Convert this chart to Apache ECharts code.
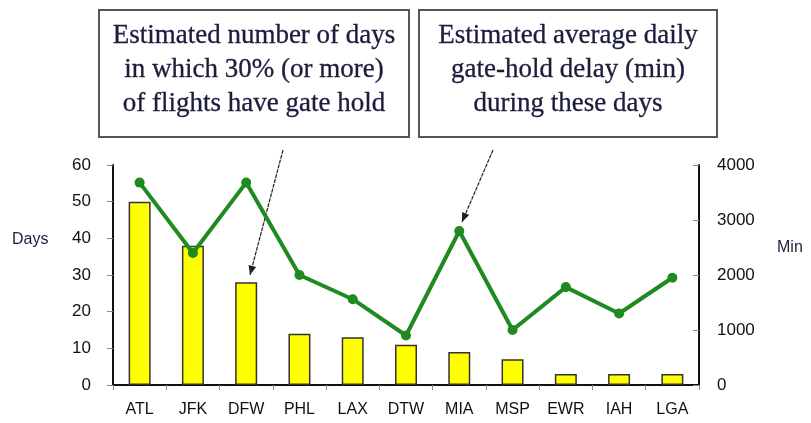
<!DOCTYPE html>
<html>
<head>
<meta charset="utf-8">
<script src="https://cdn.jsdelivr.net/npm/echarts@6/dist/echarts.min.js"></script>
<style>
  html, body { margin: 0; padding: 0; background: #fff; }
  #chart { width: 811px; height: 423px; }
</style>
</head>
<body>
<div id="chart"></div>
<script>
const airports = ['ATL', 'JFK', 'DFW', 'PHL', 'LAX', 'DTW', 'MIA', 'MSP', 'EWR', 'IAH', 'LGA'];
const gateHoldDays = [50, 38, 28, 14, 13, 11, 9, 7, 3, 3, 3];
const dailyDelayMin = [3680, 2400, 3680, 2000, 1560, 900, 2800, 1000, 1780, 1300, 1950];
const daysTicks = [0, 60, 10];
const minTicks = [0, 4000, 1000];

const boxText1 = 'Estimated number of days\nin which 30% (or more)\nof flights have gate hold';
const boxText2 = 'Estimated average daily\ngate-hold delay (min)\nduring these days';

const chart = echarts.init(document.getElementById('chart'));

const sans = '"Liberation Sans", Arial, sans-serif';
const serif = '"Liberation Serif", "Times New Roman", serif';
const txt = '#1c1c3c';

// annotation box + arrow helper
function box(x, w, text) {
  return [
    {
      type: 'rect',
      shape: { x: x, y: 10, width: w, height: 127 },
      style: { fill: '#fff', stroke: '#555', lineWidth: 2 },
    },
    {
      type: 'text',
      x: x + w / 2,
      y: 70,
      style: {
        text: text, font: '27px ' + serif, fill: txt,
        align: 'center', verticalAlign: 'middle', lineHeight: 34,
        stroke: txt, lineWidth: 0.3,
      },
    },
  ];
}
function arrow(x1, y1, x2, y2) {
  const a = Math.atan2(y2 - y1, x2 - x1);
  const L = 10, s = 0.4;
  return [
    {
      type: 'line',
      shape: { x1: x1, y1: y1, x2: x2, y2: y2 },
      style: { stroke: '#222', lineWidth: 1.2, lineDash: [4, 1] },
    },
    {
      type: 'polygon',
      shape: {
        points: [
          [x2, y2],
          [x2 - L * Math.cos(a - s), y2 - L * Math.sin(a - s)],
          [x2 - L * Math.cos(a + s), y2 - L * Math.sin(a + s)],
        ],
      },
      style: { fill: '#222' },
    },
  ];
}

const option = {
  backgroundColor: '#fff',
  animation: false,
  grid: { left: 113, right: 112, top: 165, bottom: 38 },
  xAxis: {
    type: 'category',
    data: airports,
    axisLine: { lineStyle: { color: '#111', width: 2 } },
    axisTick: { show: true, length: 5, lineStyle: { color: '#888' } },
    axisLabel: { color: '#111', fontFamily: sans, fontSize: 16, margin: 17 },
  },
  yAxis: [
    {
      type: 'value',
      min: daysTicks[0], max: daysTicks[1], interval: daysTicks[2],
      axisLine: { show: true, lineStyle: { color: '#111', width: 2 } },
      axisTick: { show: true, length: 6, lineStyle: { color: '#888' } },
      splitLine: { show: false },
      axisLabel: { color: '#111', fontFamily: sans, fontSize: 17, margin: 22 },
    },
    {
      type: 'value',
      min: minTicks[0], max: minTicks[1], interval: minTicks[2],
      axisLine: { show: true, lineStyle: { color: '#111', width: 2 } },
      axisTick: { show: true, inside: true, length: 6, lineStyle: { color: '#888' } },
      splitLine: { show: false },
      axisLabel: {
        color: '#111', fontFamily: sans, fontSize: 17, margin: 18,
        formatter: (v) => String(v),
      },
    },
  ],
  series: [
    {
      name: 'Days',
      type: 'bar',
      data: gateHoldDays,
      yAxisIndex: 0,
      barWidth: 22,
      itemStyle: { color: '#ffff00', borderColor: '#333', borderWidth: 1.5 },
    },
    {
      name: 'Min',
      type: 'line',
      data: dailyDelayMin,
      yAxisIndex: 1,
      symbol: 'circle',
      symbolSize: 10,
      lineStyle: { color: '#1f8a1f', width: 4 },
      itemStyle: { color: '#1f8a1f' },
      z: 5,
    },
  ],
  graphic: [
    {
      type: 'text', x: 12, y: 240,
      style: { text: 'Days', font: '16px ' + sans, fill: txt, verticalAlign: 'middle' },
    },
    {
      type: 'text', x: 777, y: 248,
      style: { text: 'Min', font: '16px ' + sans, fill: txt, verticalAlign: 'middle' },
    },
    ...box(99, 310, boxText1),
    ...box(419, 298, boxText2),
    ...arrow(283, 150, 250, 275),
    ...arrow(493, 150, 462, 222),
  ],
};

chart.setOption(option);
</script>
</body>
</html>
